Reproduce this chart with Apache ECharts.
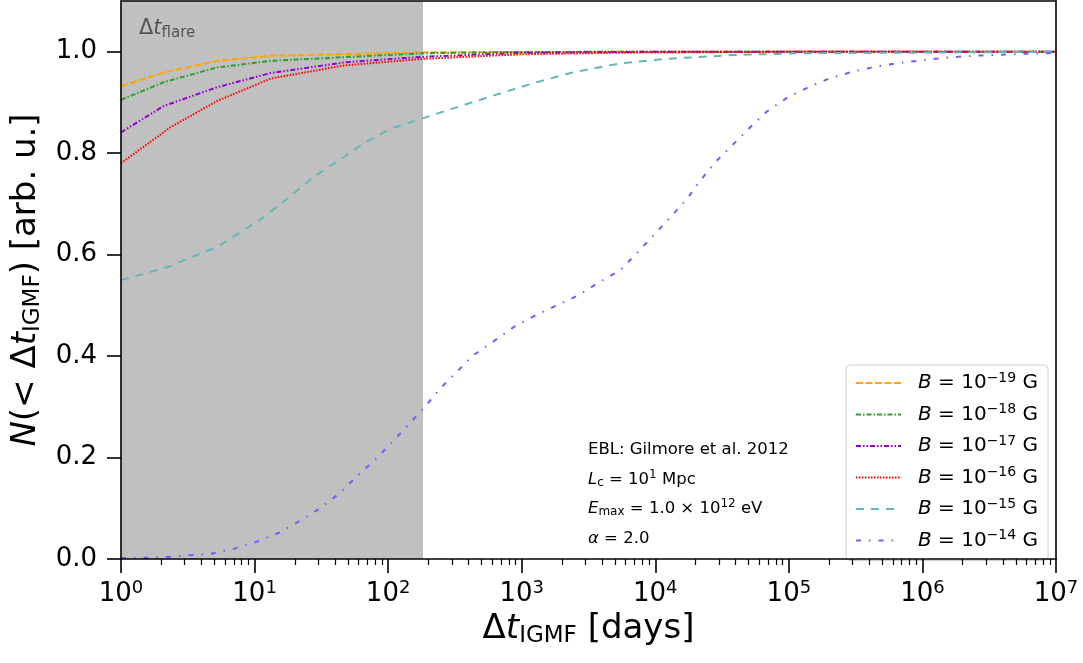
<!DOCTYPE html>
<html><head><meta charset="utf-8">
<script src="https://cdn.jsdelivr.net/npm/echarts@6/dist/echarts.min.js"></script>
<style>html,body{margin:0;padding:0;background:#fff}#c{width:1083px;height:663px}</style>
</head><body><div id="c"></div>
<script>
// ---------- data ----------
const yTicks = [0, 0.2, 0.4, 0.6, 0.8, 1.0];
const flareDays = 182.5;               // shaded "Δt_flare" band ends here
const fieldExponents = ['−19', '−18', '−17', '−16', '−15', '−14'];
const seriesColors = ['#ffa500', '#2ca02c', '#9400d3', '#ff0000', '#66b6b8', '#6464ff'];

const b19Days = [1, 2.09, 5.25, 13.2, 182, 1000, 1e4, 1e7];
const b19Vals = [0.932, 0.959, 0.982, 0.992, 0.9987, 0.9995, 1.0, 1.0];

const b18Days = [1, 2.09, 5.25, 13.2, 182, 1000, 1e4, 1e7];
const b18Vals = [0.905, 0.940, 0.969, 0.982, 0.997, 0.9995, 1.0, 1.0];

const b17Days = [1, 2.09, 5.25, 13.2, 46.8, 182, 1000, 1e4, 1e7];
const b17Vals = [0.841, 0.893, 0.930, 0.958, 0.979, 0.990, 0.998, 1.0, 1.0];

const b16Days = [1, 2.34, 5.25, 13.2, 46.8, 182, 1000, 5500, 1e5, 1e7];
const b16Vals = [0.780, 0.851, 0.903, 0.947, 0.973, 0.986, 0.995, 0.998, 1.0, 1.0];

const b15Days = [1, 1.39, 2.34, 3.12, 5.24, 6.92, 11.0, 17.5, 27.7, 46.3, 65.2, 104, 174, 232, 412, 731, 1300, 2310, 4090, 5460, 12200, 38300, 122000, 681000, 1e7];
const b15Vals = [0.550, 0.560, 0.577, 0.592, 0.615, 0.635, 0.669, 0.710, 0.753, 0.792, 0.819, 0.848, 0.867, 0.878, 0.899, 0.920, 0.940, 0.958, 0.971, 0.977, 0.986, 0.9935, 0.997, 0.998, 1.0];

const b14Days = [1, 1.97, 3.12, 4.66, 6.97, 10.4, 15.6, 22.0, 31.0, 43.9, 58.3, 80.0, 107, 142, 190, 245, 327, 436, 615, 869, 1260, 1830, 2660, 3870, 5460, 7280, 9700, 12900, 17300, 21700, 28100, 38500, 51300, 68400, 96600, 140000, 204000, 305000, 456000, 681000, 1.05e6, 1.61e6, 2.41e6, 3.81e6, 5.68e6, 8.59e6, 1e7];
const b14Vals = [0.002, 0.003, 0.007, 0.010, 0.020, 0.034, 0.053, 0.076, 0.100, 0.131, 0.163, 0.196, 0.230, 0.265, 0.301, 0.336, 0.369, 0.402, 0.429, 0.457, 0.480, 0.500, 0.520, 0.547, 0.569, 0.603, 0.638, 0.673, 0.710, 0.746, 0.782, 0.818, 0.851, 0.882, 0.909, 0.930, 0.948, 0.961, 0.971, 0.978, 0.984, 0.989, 0.992, 0.994, 0.996, 0.997, 0.998];

const allDays = [b19Days, b18Days, b17Days, b16Days, b15Days, b14Days];
const allVals = [b19Vals, b18Vals, b17Vals, b16Vals, b15Vals, b14Vals];
const dashPatterns = [[7, 2.5], [5, 2, 1.5, 2], [5, 2, 1.5, 2, 1.5, 2], [1.5, 1.5], [8, 7], [5, 8, 1.5, 8]];

// minor tick positions of a log axis (2..9 x 10^n)
const minorTicks = [];
for (let d = 0; d < 7; d++) for (let k = 2; k <= 9; k++) minorTicks.push(k * Math.pow(10, d));

// ---------- chart ----------
const FONT = 'DejaVu Sans';
const chart = echarts.init(document.getElementById('c'), null, {renderer: 'canvas'});
const names = fieldExponents.map(e => 'B = 10^' + e + ' G');

const series = allDays.map((days, i) => ({
  name: names[i],
  type: 'line',
  xAxisIndex: 0, yAxisIndex: 0,
  data: days.map((d, j) => [d, allVals[i][j]]),
  symbol: 'none',
  smooth: false,
  z: 3,
  lineStyle: {color: seriesColors[i], width: 2, type: dashPatterns[i]},
  itemStyle: {color: seriesColors[i]},
  emphasis: {disabled: true},
  markArea: i === 0 ? {
    silent: true,
    z: 1,
    itemStyle: {color: '#c0c0c0', opacity: 1},
    data: [[{xAxis: 1}, {xAxis: flareDays}]]
  } : undefined
}));

const supRich = {
  sup: {fontSize: 18, fontFamily: FONT, color: '#000', padding: [0, 0, 12, 0]}
};

chart.setOption({
  animation: false,
  backgroundColor: '#fff',
  grid: {left: 121, right: 27, top: 1, bottom: 104, containLabel: false},
  xAxis: [
    {
      type: 'log', logBase: 10, min: 1, max: 1e7, splitNumber: 7, position: 'bottom', z: 10,
      axisLine: {lineStyle: {color: '#000', width: 1.6}},
      axisTick: {length: 14, lineStyle: {color: '#000', width: 1.6}},
      splitLine: {show: false}, minorSplitLine: {show: false},
      axisLabel: {
        margin: 20, fontSize: 26, fontFamily: FONT, color: '#000',
        formatter: v => '10{sup|' + Math.round(Math.log10(v)) + '}',
        rich: supRich
      },
      name: 'Δ{i|t}{sub|IGMF} [days]',
      nameLocation: 'middle', nameGap: 46,
      nameTextStyle: {
        fontSize: 34, fontFamily: FONT, color: '#000',
        rich: {
          i: {fontSize: 34, fontFamily: FONT, fontStyle: 'italic', color: '#000'},
          sub: {fontSize: 23, fontFamily: FONT, color: '#000', padding: [14, 0, 0, 0]}
        }
      }
    },
    {
      type: 'log', logBase: 10, min: 1, max: 1e7, position: 'bottom', z: 10,
      axisLine: {show: false}, axisLabel: {show: false}, splitLine: {show: false},
      axisTick: {length: 6, customValues: minorTicks, lineStyle: {color: '#000', width: 1.2}}
    },
    {
      type: 'log', logBase: 10, min: 1, max: 1e7, position: 'top', z: 10,
      axisLine: {lineStyle: {color: '#000', width: 1.6}},
      axisTick: {show: false}, axisLabel: {show: false}, splitLine: {show: false}
    }
  ],
  yAxis: [
    {
      type: 'value', min: 0, max: 1.1, position: 'left', z: 10,
      axisLine: {show: true, lineStyle: {color: '#000', width: 1.6}},
      axisTick: {show: true, length: 14, customValues: yTicks, lineStyle: {color: '#000', width: 1.6}},
      splitLine: {show: false},
      axisLabel: {
        margin: 24, fontSize: 26, fontFamily: FONT, color: '#000',
        customValues: yTicks, formatter: v => v.toFixed(1)
      },
      name: '{i|N}(< Δ{i|t}{sub|IGMF}) [arb. u.]',
      nameLocation: 'middle', nameGap: 62, nameRotate: 90,
      nameTextStyle: {
        fontSize: 34, fontFamily: FONT, color: '#000',
        rich: {
          i: {fontSize: 34, fontFamily: FONT, fontStyle: 'italic', color: '#000'},
          sub: {fontSize: 23, fontFamily: FONT, color: '#000', padding: [14, 0, 0, 0]}
        }
      }
    },
    {
      type: 'value', min: 0, max: 1.1, position: 'right', z: 10,
      axisLine: {show: true, lineStyle: {color: '#000', width: 1.6}},
      axisTick: {show: false}, axisLabel: {show: false}, splitLine: {show: false}
    }
  ],
  legend: {
    data: names,
    orient: 'vertical',
    left: 846, top: 365,
    padding: [6, 10, 10, 9],
    itemWidth: 45, itemHeight: 14, itemGap: 9.5,
    backgroundColor: 'rgba(255,255,255,0.85)',
    borderColor: '#d0d0d0', borderWidth: 1, borderRadius: 4,
    selectedMode: false,
    itemStyle: {opacity: 0},
    formatter: n => {
      const i = names.indexOf(n);
      return '{sp| }{i|B} = 10{sup|' + fieldExponents[i] + '} G';
    },
    textStyle: {
      fontSize: 20, fontFamily: FONT, color: '#000', lineHeight: 20,
      rich: {
        sp: {width: 12},
        i: {fontSize: 20, fontFamily: FONT, fontStyle: 'italic', color: '#000'},
        sup: {fontSize: 14, fontFamily: FONT, color: '#000', padding: [0, 0, 10, 0]}
      }
    }
  },
  graphic: [
    {
      type: 'text', left: 139, top: 18, z: 20, silent: true,
      style: {
        text: 'Δ{i|t}{sub|flare}',
        fontSize: 21, fontFamily: FONT, fill: '#555',
        rich: {
          i: {fontSize: 21, fontFamily: FONT, fontStyle: 'italic', fill: '#555'},
          sub: {fontSize: 15, fontFamily: FONT, fill: '#555', padding: [9, 0, 0, 0]}
        }
      }
    },
    {
      type: 'text', left: 588, top: 435, z: 20, silent: true,
      style: {
        text: 'EBL: Gilmore et al. 2012\n{i|L}{sub|c} = 10{sup|1} Mpc\n{i|E}{sub|max} = 1.0 × 10{sup|12} eV\n{i|α} = 2.0',
        fontSize: 16.5, fontFamily: FONT, fill: '#000', lineHeight: 29.5,
        rich: {
          i: {fontSize: 16.5, fontFamily: FONT, fontStyle: 'italic', fill: '#000', lineHeight: 29.5},
          sub: {fontSize: 12, fontFamily: FONT, fill: '#000', padding: [7, 0, 0, 0], lineHeight: 29.5},
          sup: {fontSize: 12, fontFamily: FONT, fill: '#000', padding: [0, 0, 9, 0], lineHeight: 29.5}
        }
      }
    }
  ],
  series: series
});
</script></body></html>
